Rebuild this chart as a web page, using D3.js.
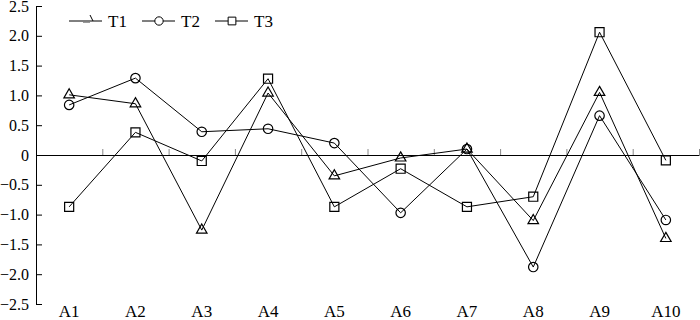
<!DOCTYPE html>
<html>
<head>
<meta charset="utf-8">
<script src="https://cdn.jsdelivr.net/npm/d3@7"></script>
<style>
  body { margin: 0; background: #fff; }
</style>
</head>
<body>
<svg width="700" height="320"></svg>
<script>
(() => {

    var width = 700;
    var height = 320;
    var margin = { top: 6, bottom: 16, left: 36, right: 1 };
    var font = "'Liberation Serif', 'Times New Roman', Times, serif";

    // data
    var categories = ["A1", "A2", "A3", "A4", "A5", "A6", "A7", "A8", "A9", "A10"];
    var seriesNames = ["T1", "T2", "T3"];
    var t1 = [1.01, 0.86, -1.26, 1.04, -0.35, -0.05, 0.10, -1.10, 1.05, -1.40];
    var t2 = [0.84, 1.29, 0.39, 0.44, 0.20, -0.97, 0.10, -1.88, 0.66, -1.09];
    var t3 = [-0.87, 0.38, -0.10, 1.28, -0.87, -0.23, -0.87, -0.70, 2.06, -0.09];
    var yTicks = [2.5, 2.0, 1.5, 1.0, 0.5, 0, -0.5, -1.0, -1.5, -2.0, -2.5];

    var series = [
        { name: seriesNames[0], values: t1, symbol: d3.symbolTriangle },
        { name: seriesNames[1], values: t2, symbol: d3.symbolCircle },
        { name: seriesNames[2], values: t3, symbol: d3.symbolSquare }
    ];

    var svg = d3.select("svg");

    // scales
    var x = d3.scaleBand()
        .domain(categories)
        .range([margin.left, width - margin.right])
        .padding(0);

    var xEdge = d3.scaleLinear()
        .domain([0, categories.length])
        .range([margin.left, width - margin.right]);

    var y = d3.scaleLinear()
        .domain([-2.5, 2.5])
        .range([height - margin.bottom, margin.top]);

    var cx = function (d, i) { return x(categories[i]) + x.bandwidth() / 2; };

    // y axis, ticks pointing inside
    var fmt = d3.format(".1f");
    var yAxis = d3.axisLeft(y)
        .tickValues(yTicks)
        .tickSizeInner(-6)
        .tickSizeOuter(0)
        .tickPadding(7)
        .tickFormat(function (d) { return d === 0 ? "0" : fmt(d); });

    var gy = svg.append("g")
        .attr("transform", "translate(" + [margin.left, 0] + ")")
        .call(yAxis);
    gy.attr("font-family", null).attr("font-size", null);
    gy.selectAll("text").style("font-family", font).style("font-size", "16px");
    gy.selectAll("line, path").attr("stroke", "#000");

    // zero line with short ticks between categories
    var gx = svg.append("g")
        .attr("transform", "translate(" + [0, y(0)] + ")")
        .call(d3.axisTop(xEdge)
            .tickValues(d3.range(1, categories.length + 1))
            .tickSizeInner(6)
            .tickSizeOuter(0)
            .tickFormat(""));
    gx.select(".domain").attr("stroke", "#000");
    gx.selectAll(".tick line").attr("stroke", "#888");

    // category labels at the bottom
    var gl = svg.append("g")
        .attr("transform", "translate(" + [0, y(-2.5)] + ")")
        .call(d3.axisBottom(x).tickSize(0).tickPadding(1));
    gl.attr("font-family", null).attr("font-size", null);
    gl.select(".domain").remove();
    gl.selectAll("text").style("font-family", font).style("font-size", "17px");

    // lines
    var line = d3.line()
        .x(cx)
        .y(function (d) { return y(d); });

    series.forEach(function (s) {
        svg.append("path")
            .datum(s.values)
            .attr("fill", "none")
            .attr("stroke", "#000")
            .attr("stroke-width", 1)
            .attr("d", line);
    });

    // markers
    var sizes = { T1: 48, T2: 70, T3: 82 };
    series.forEach(function (s) {
        svg.selectAll(null)
            .data(s.values)
            .enter().append("path")
            .attr("transform", function (d, i) { return "translate(" + [cx(d, i), y(d)] + ")"; })
            .attr("d", d3.symbol().type(s.symbol).size(sizes[s.name]))
            .attr("fill", "none")
            .attr("stroke", "#000")
            .attr("stroke-width", 1.2);
    });

    // legend
    var legendX = [69, 142, 215];
    var legend = svg.append("g").attr("transform", "translate(0,21)");
    series.forEach(function (s, i) {
        var lx = legendX[i];
        legend.append("line")
            .attr("x1", lx).attr("x2", lx + 33)
            .attr("y1", 0).attr("y2", 0)
            .attr("stroke", "#000");
        if (i === 0) {
            // the odd clipped triangle glyph in the original legend
            legend.append("path")
                .attr("d", "M" + (lx + 21) + ",-6L" + (lx + 24) + ",0")
                .attr("stroke", "#000").attr("fill", "none");
            legend.append("path")
                .attr("d", "M" + (lx + 14) + ",1.5L" + (lx + 21) + ",1.5")
                .attr("stroke", "#999").attr("fill", "none");
        } else {
            legend.append("path")
                .attr("transform", "translate(" + [lx + 17, 0] + ")")
                .attr("d", d3.symbol().type(s.symbol).size(i === 1 ? 55 : 60))
                .attr("fill", "#fff")
                .attr("stroke", "#000");
        }
        legend.append("text")
            .attr("x", lx + 39)
            .attr("y", 5.5)
            .style("font-family", font)
            .style("font-size", "17px")
            .text(s.name);
    });

})();
</script>
</body>
</html>
